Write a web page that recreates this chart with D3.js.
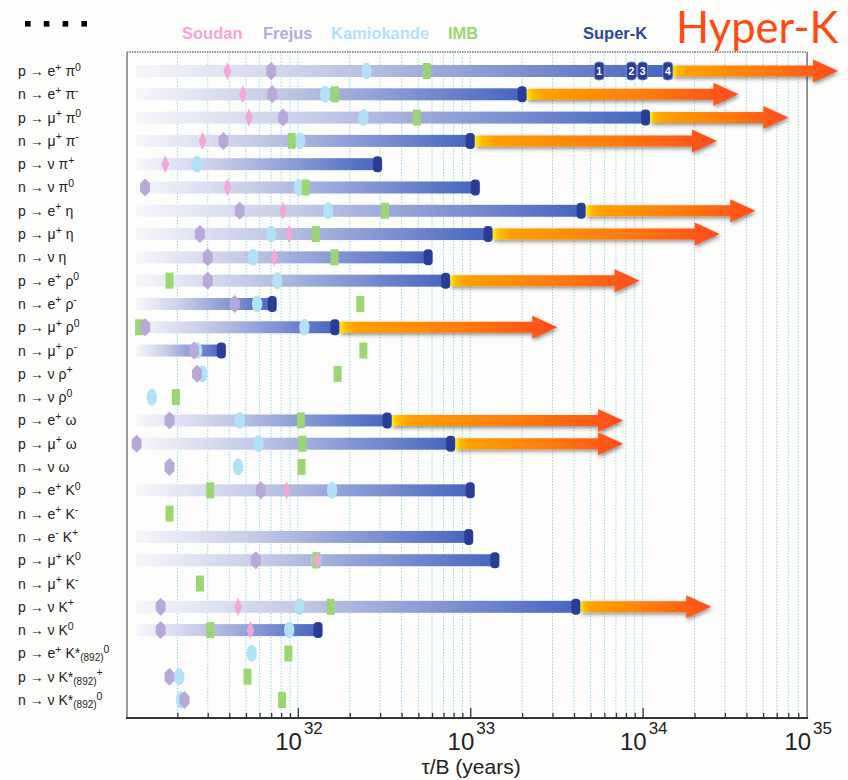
<!DOCTYPE html>
<html>
<head>
<meta charset="utf-8">
<script src="https://cdn.jsdelivr.net/npm/d3@7"></script>
<style>
  body { margin: 0; background: #fdfdfb; }
  svg { display: block; font-family: "Liberation Sans", Arial, sans-serif; }
  text, tspan { white-space: pre; }
</style>
</head>
<body>
<svg id="chart" width="848" height="780"></svg>
<script>
// decay modes, top to bottom
const decays = [
  "p → e^+ π^0", "n → e^+ π^-", "p → μ^+ π^0", "n → μ^+ π^-", "p → ν π^+", "n → ν π^0",
  "p → e^+ η", "p → μ^+ η", "n → ν η", "p → e^+ ρ^0", "n → e^+ ρ^-", "p → μ^+ ρ^0",
  "n → μ^+ ρ^-", "p → ν ρ^+", "n → ν ρ^0", "p → e^+ ω", "p → μ^+ ω", "n → ν ω",
  "p → e^+ K^0", "n → e^+ K^-", "n → e^- K^+", "p → μ^+ K^0", "n → μ^+ K^-", "p → ν K^+",
  "n → ν K^0", "p → e^+ K*_(892)^0", "p → ν K*_(892)^+", "n → ν K*_(892)^0"
];

// lower limits on tau/B (years), null = no result
const soudan = [3.9e31, 4.8e31, 5.2e31, 2.8e31, 1.7e31, 3.9e31, 8.2e31, 8.9e31, 7.3e31, null,
  null, null, null, null, null, null, null, null, 8.6e31, null, null, 1.3e32, null, 4.5e31,
  5.3e31, null, null, null];
const frejus = [7.0e31, 7.1e31, 8.2e31, 3.7e31, null, 1.3e31, 4.6e31, 2.7e31, 3.0e31, 3.0e31,
  4.3e31, 1.3e31, 2.5e31, 2.6e31, null, 1.8e31, 1.16e31, 1.8e31, 6.1e31, null, null, 5.7e31,
  null, 1.6e31, 1.6e31, null, 1.8e31, 2.2e31];
const kamiokande = [2.5e32, 1.44e32, 2.4e32, 1.03e32, 2.6e31, 1.01e32, 1.5e32, 7.0e31, 5.5e31,
  7.6e31, 5.8e31, 1.09e32, 2.6e31, 2.8e31, 1.42e31, 4.6e31, 5.9e31, 4.5e31, 1.58e32, null, null,
  1.28e32, null, 1.02e32, 8.9e31, 5.4e31, 2.05e31, 2.1e31];
const imb = [5.6e32, 1.64e32, 4.9e32, 9.2e31, null, 1.11e32, 3.2e32, 1.27e32, 1.63e32, 1.8e31,
  2.3e32, 1.2e31, 2.4e32, 1.7e32, 1.96e31, 1.04e32, 1.06e32, 1.05e32, 3.1e31, 1.8e31, null,
  1.28e32, 2.7e31, 1.55e32, 3.1e31, 8.8e31, 5.1e31, 8.1e31];
const superK = [1.4e34, 2.0e33, 1.04e34, 1.0e33, 2.9e32, 1.07e33, 4.4e33, 1.27e33, 5.7e32, 7.2e32,
  7.1e31, 1.64e32, 3.6e31, null, null, 3.3e32, 7.7e32, null, 1.0e33, null, 9.8e32, 1.39e33, null,
  4.1e33, 1.31e32, null, null, null];
const hyperK = [1.36e35, 3.6e34, 7.0e34, 2.7e34, null, null, 4.5e34, 2.8e34, null, 9.6e33,
  null, 3.2e33, null, null, null, 7.7e33, 7.7e33, null, null, null, null, null, null,
  2.5e34, null, null, null, null];
// successive Super-K results for p -> e+ pi0
const superKSteps = [5.6e33, 8.6e33, 1.0e34, 1.4e34];
const stepLabels = ["1", "2", "3", "4"];
const barStart = 1.15e31;
const decadeLabels = [32, 33, 34, 35];

const experiments = ["Soudan", "Frejus", "Kamiokande", "IMB", "Super-K"];
const expColors = ["#f5a6d6", "#b7aadb", "#b2e2f8", "#9cd672", "#2d479d"];

const svg = d3.select("#chart");
const x = d3.scaleLog().domain([1e31, 1e35]).range([125.5, 815]);
const y = d3.scalePoint().domain(decays).range([71, 700]);
const yTop = 52, yBottom = 718;
const xL = 127, xR = x(9e34);

const defs = svg.append("defs");
const bg = defs.append("linearGradient").attr("id", "barGrad");
bg.append("stop").attr("offset", 0).attr("stop-color", "#f7f7fb");
bg.append("stop").attr("offset", 0.35).attr("stop-color", "#c6cce8");
bg.append("stop").attr("offset", 1).attr("stop-color", "#4565c0");

const ag = defs.append("linearGradient").attr("id", "arrowGrad");
[[0, "#ffea00"], [0.03, "#ffb800"], [0.08, "#ffa000"], [0.6, "#ff780c"], [1, "#ff4a1e"]]
  .forEach(s => ag.append("stop").attr("offset", s[0]).attr("stop-color", s[1]));

const shadow = defs.append("filter").attr("id", "shadow")
  .attr("x", "-10%").attr("y", "-60%").attr("width", "120%").attr("height", "220%");
shadow.append("feDropShadow").attr("dx", 1).attr("dy", 2).attr("stdDeviation", 2.2)
  .attr("flood-color", "#000").attr("flood-opacity", 0.45);

// decoration top left
svg.append("g").selectAll("rect").data([0, 1, 2, 3]).join("rect")
  .attr("x", d => 25 + d * 18.8).attr("y", 21).attr("width", 5.6).attr("height", 5.6)
  .attr("fill", "#000");

// legend
const legX = [182, 263, 331, 448, 583];
svg.append("g").selectAll("text").data(experiments).join("text")
  .attr("x", (d, i) => legX[i]).attr("y", 39)
  .attr("font-size", 16.5).attr("font-weight", "bold")
  .attr("fill", (d, i) => expColors[i]).text(d => d);
svg.append("text").attr("x", 676).attr("y", 43)
  .attr("font-family", "Lato, 'Open Sans', sans-serif").attr("font-size", 43.5)
  .attr("fill", "#ff4a14").text("Hyper-K");

// grid
const gridVals = [];
for (let e = 31; e <= 34; e++) {
  for (let m = 1; m <= 9; m++) {
    const v = m * Math.pow(10, e);
    if (v > 1e31 && v < 9e34) gridVals.push(v);
  }
}
const isMajor = v => Math.abs(Math.log10(v) - Math.round(Math.log10(v))) < 1e-6;

svg.append("g").selectAll("line").data(gridVals).join("line")
  .attr("x1", d => x(d)).attr("x2", d => x(d)).attr("y1", yTop).attr("y2", yBottom)
  .attr("stroke", "#96d2f0").attr("stroke-width", 1).attr("stroke-dasharray", "1.5,1.5");

// frame
svg.append("line").attr("x1", xL).attr("x2", xR).attr("y1", yTop).attr("y2", yTop)
  .attr("stroke", "#777").attr("stroke-width", 1.5).attr("stroke-dasharray", "1.5,1");
svg.append("line").attr("x1", xR).attr("x2", xR).attr("y1", yTop).attr("y2", yBottom)
  .attr("stroke", "#777").attr("stroke-width", 1.5);
svg.append("line").attr("x1", xL).attr("x2", xL).attr("y1", yTop).attr("y2", yBottom)
  .attr("stroke", "#999").attr("stroke-width", 2);
svg.append("line").attr("x1", xL - 1).attr("x2", xR + 1).attr("y1", yBottom).attr("y2", yBottom)
  .attr("stroke", "#333").attr("stroke-width", 2);

// axis ticks
const axis = d3.axisBottom(x).tickValues(gridVals).tickSizeInner(-5).tickSizeOuter(0).tickFormat("");
const gAxis = svg.append("g").attr("transform", `translate(0,${yBottom})`).call(axis);
gAxis.select(".domain").remove();
gAxis.selectAll(".tick line").attr("y2", d => isMajor(d) ? -10 : -5)
  .attr("stroke", "#333").attr("stroke-width", 1.3);

const decG = svg.append("g").attr("fill", "#222")
  .attr("font-family", "'Liberation Sans Narrow', 'Arial Narrow', 'Liberation Sans', sans-serif");
decadeLabels.forEach(e => {
  const px = Math.min(x(Math.pow(10, e)), xR);
  decG.append("text").attr("x", px + 4).attr("y", 750).attr("text-anchor", "end")
    .attr("font-size", 24).text("10");
  decG.append("text").attr("x", px + 6).attr("y", 734).attr("font-size", 17).text(e);
});
svg.append("text").attr("x", (xL + xR) / 2 + 4).attr("y", 773.5).attr("text-anchor", "middle")
  .attr("font-size", 21).attr("fill", "#222").text("τ/B (years)");

// row labels
function addLabel(sel, str) {
  const parts = str.split(/(\^.|_\([^)]*\))/).filter(s => s.length);
  let off = 0;
  parts.forEach(p => {
    let target = 0, txt = p, fs = 14;
    if (p[0] === "^") { target = -5.5; txt = p.slice(1); fs = 10.5; }
    else if (p[0] === "_") { target = 3; txt = p.slice(1); fs = 10; }
    sel.append("tspan").attr("dy", target - off).attr("font-size", fs).text(txt);
    off = target;
  });
}
svg.append("g").selectAll("text").data(decays).join("text")
  .attr("x", 18).attr("y", d => y(d) + 5).attr("fill", "#222")
  .each(function (d) { addLabel(d3.select(this), d); });

// Super-K bars
const rows = decays.map((d, i) => ({
  name: d, soudan: soudan[i], frejus: frejus[i], kamiokande: kamiokande[i],
  imb: imb[i], superK: superK[i], hyperK: hyperK[i]
}));
const skRows = rows.filter(r => r.superK != null);
svg.append("g").selectAll("rect").data(skRows).join("rect")
  .attr("x", x(barStart)).attr("y", r => y(r.name) - 6)
  .attr("width", r => x(r.superK) - x(barStart)).attr("height", 12)
  .attr("fill", "url(#barGrad)");

// Hyper-K arrows
const hkRows = rows.filter(r => r.hyperK != null);
svg.append("g").attr("filter", "url(#shadow)").selectAll("path").data(hkRows).join("path")
  .attr("d", r => {
    const x0 = x(r.superK) + 5, x1 = x(r.hyperK), hx = x1 - 25, yy = y(r.name);
    return `M${x0},${yy - 5.5}L${hx},${yy - 5.5}L${hx},${yy - 11.5}L${x1},${yy}` +
      `L${hx},${yy + 11.5}L${hx},${yy + 5.5}L${x0},${yy + 5.5}Z`;
  })
  .attr("fill", "url(#arrowGrad)");

// earlier experiments
const mk = svg.append("g");
mk.selectAll("ellipse").data(rows.filter(r => r.kamiokande != null)).join("ellipse")
  .attr("cx", r => x(r.kamiokande)).attr("cy", r => y(r.name)).attr("rx", 5.2).attr("ry", 8.5)
  .attr("fill", expColors[2]);
mk.selectAll("rect.imb").data(rows.filter(r => r.imb != null)).join("rect").attr("class", "imb")
  .attr("x", r => x(r.imb) - 4).attr("y", r => y(r.name) - 8).attr("width", 8).attr("height", 16)
  .attr("fill", expColors[3]);
mk.selectAll("path.frejus").data(rows.filter(r => r.frejus != null)).join("path").attr("class", "frejus")
  .attr("transform", r => `translate(${x(r.frejus)},${y(r.name)})`)
  .attr("d", "M0,-9L5,-4L5,4L0,9L-5,4L-5,-4Z").attr("fill", expColors[1]);
mk.selectAll("path.soudan").data(rows.filter(r => r.soudan != null)).join("path").attr("class", "soudan")
  .attr("transform", r => `translate(${x(r.soudan)},${y(r.name)})`)
  .attr("d", "M0,-9L4,0L0,9L-4,0Z").attr("fill", expColors[0]);

// Super-K caps
svg.append("g").selectAll("rect").data(skRows.slice(1)).join("rect")
  .attr("x", r => x(r.superK) - 4.5).attr("y", r => y(r.name) - 8)
  .attr("width", 9).attr("height", 16).attr("rx", 4)
  .attr("fill", "#2a3d96");

// numbered Super-K steps for the first mode
const stepG = svg.append("g").selectAll("g").data(superKSteps).join("g")
  .attr("transform", d => `translate(${x(d)},${y(decays[0])})`);
stepG.append("rect").attr("x", -5).attr("y", -9).attr("width", 10).attr("height", 18).attr("rx", 4)
  .attr("fill", "#2a3d96").attr("stroke", "#7f8fd0").attr("stroke-width", 0.8);
stepG.append("text").attr("y", 4).attr("text-anchor", "middle").attr("font-size", 10.5)
  .attr("font-weight", "bold").attr("fill", "#fff").text((d, i) => stepLabels[i]);
</script>
</body>
</html>
